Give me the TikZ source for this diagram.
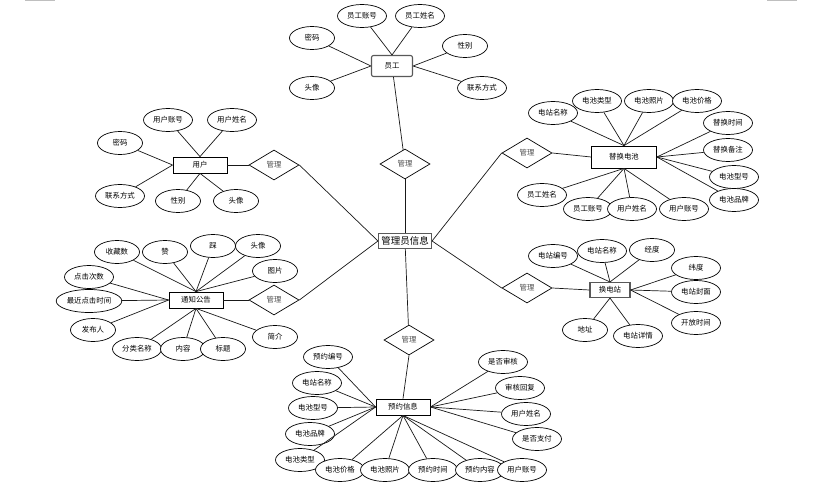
\documentclass[tikz,border=0pt]{standalone}
\usepackage{fontspec}
\setmainfont{Noto Sans CJK SC}
\usetikzlibrary{shapes.geometric}
\tikzset{
  attr/.style={ellipse,draw=black,fill=white,line width=0.7pt,minimum width=45pt,minimum height=23pt,inner sep=1pt,font=\fontsize{7.4pt}{8pt}\selectfont},
  attrw/.style={attr,minimum width=49pt},
  ent/.style={rectangle,draw=black,fill=white,line width=0.8pt,inner sep=0pt,font=\fontsize{7.4pt}{8pt}\selectfont},
  entg/.style={ent,draw=black!65,line width=1.1pt},
  rel/.style={diamond,draw=black,fill=white,line width=0.7pt,minimum width=50pt,minimum height=30pt,aspect=1.67,inner sep=0pt,text=black!70,font=\fontsize{7.4pt}{8pt}\selectfont},
  lk/.style={draw=black!90,line width=0.7pt},
  artif/.style={draw=black!25,line width=0.8pt}
}
\begin{document}
\begin{tikzpicture}[x=1pt,y=-1pt]
\useasboundingbox[fill=white] (0,0) rectangle (815,490);
\draw[artif] (25,0.5) -- (55,0.5);
\draw[artif] (767,0.5) -- (797,0.5);

% central
\node[entg,minimum width=53pt,minimum height=15pt,font=\fontsize{9.5pt}{10pt}\selectfont] (a) at (405,241) {管理员信息};

% 员工
\node[entg,rounded corners=2pt,minimum width=41pt,minimum height=21pt] (e) at (392,66) {员工};
\node[attrw] (e1) at (362,16) {员工账号};
\node[attrw] (e2) at (420,16) {员工姓名};
\node[attr] (e3) at (312,38) {密码};
\node[attr] (e4) at (465,46) {性别};
\node[attr] (e5) at (312,88) {头像};
\node[attrw] (e6) at (482,88) {联系方式};
\node[rel] (d1) at (405,164) {管理};
\draw[lk] (e1) -- (e.north) (e2) -- (e.north);
\draw[lk] (e3) -- (e.west) (e5) -- (e.west);
\draw[lk] (e4) -- (e.east) (e6) -- (e.east);
\draw[lk] (e) -- (d1);
\draw[lk] (d1) -- (a);

% 用户
\node[ent,minimum width=54pt,minimum height=16pt] (u) at (200,165) {用户};
\node[attrw] (u1) at (168,120) {用户账号};
\node[attrw] (u2) at (232,120) {用户姓名};
\node[attr] (u3) at (120,143) {密码};
\node[attrw] (u4) at (120,196) {联系方式};
\node[attr] (u5) at (178,201) {性别};
\node[attr] (u6) at (236,201) {头像};
\node[rel] (d2) at (274,165) {管理};
\draw[lk] (u1) -- (u.north) (u2) -- (u.north);
\draw[lk] (u3) -- (u.west) (u4) -- (u.west);
\draw[lk] (u5) -- (u.south) (u6) -- (u.south);
\draw[lk] (u.east) -- (d2.west);
\draw[lk] (d2.east) -- (a.west);

% 替换电池
\node[ent,minimum width=65pt,minimum height=22pt] (b) at (624,157) {替换电池};
\node[attrw] (b1) at (553,113) {电站名称};
\node[attrw] (b2) at (597,101) {电池类型};
\node[attrw] (b3) at (649,101) {电池照片};
\node[attrw] (b4) at (697,101) {电池价格};
\node[attrw] (b5) at (728,123) {替换时间};
\node[attrw] (b6) at (728,150) {替换备注};
\node[attrw] (b7) at (734,177) {电池型号};
\node[attrw] (b8) at (734,200) {电池品牌};
\node[attrw] (b9) at (542,195) {员工姓名};
\node[attrw] (b10) at (588,209) {员工账号};
\node[attrw] (b11) at (632,209) {用户姓名};
\node[attrw] (b12) at (684,209) {用户账号};
\node[rel] (d3) at (527,153) {管理};
\foreach \i in {1,2,3,4} {\draw[lk] (b\i) -- (b.north);}
\foreach \i in {5,6,7,8} {\draw[lk] (b\i) -- (b.east);}
\foreach \i in {9,10,11,12} {\draw[lk] (b\i) -- (b.south);}
\draw[lk] (d3.east) -- (b.west);
\draw[lk] (d3.west) -- (a.east);

% 通知公告
\node[ent,minimum width=54pt,minimum height=16pt] (n) at (196,300) {通知公告};
\node[attr] (n1) at (117,252) {收藏数};
\node[attr] (n2) at (165,252) {赞};
\node[attr] (n3) at (213,246) {踩};
\node[attr] (n4) at (258,246) {头像};
\node[attr] (n5) at (275,271) {图片};
\node[attrw] (n6) at (89,277) {点击次数};
\node[attr] (n7) at (89,301) {最近点击时间};
\node[attr] (n8) at (93,330) {发布人};
\node[attrw] (n9) at (137,349) {分类名称};
\node[attr] (n10) at (183,349) {内容};
\node[attr] (n11) at (223,349) {标题};
\node[attr] (n12) at (275,337) {简介};
\node[rel] (d4) at (274,300) {管理};
\foreach \i in {1,2,3,4,5} {\draw[lk] (n\i) -- (n.north);}
\foreach \i in {6,7,8} {\draw[lk] (n\i) -- (n.west);}
\foreach \i in {9,10,11,12} {\draw[lk] (n\i) -- (n.south);}
\draw[lk] (n.east) -- (d4.west);
\draw[lk] (d4.east) -- (a.west);

% 换电站
\node[entg,minimum width=40pt,minimum height=15pt] (s) at (610,290) {换电站};
\node[attrw] (s1) at (553,256) {电站编号};
\node[attrw] (s2) at (602,251) {电站名称};
\node[attr] (s3) at (652,250) {经度};
\node[attrw] (s4) at (696,268) {纬度};
\node[attrw] (s5) at (696,292) {电站封面};
\node[attrw] (s6) at (696,323) {开放时间};
\node[attr] (s7) at (585,330) {地址};
\node[attrw] (s8) at (638,336) {电站详情};
\node[rel] (d5) at (527,288) {管理};
\foreach \i in {1,2,3} {\draw[lk] (s\i) -- (s.north);}
\foreach \i in {4,5,6} {\draw[lk] (s\i) -- (s.east);}
\foreach \i in {7,8} {\draw[lk] (s\i) -- (s.south);}
\draw[lk] (s.west) -- (d5.east);
\draw[lk] (d5.west) -- (a.east);

% 预约信息
\node[ent,minimum width=54pt,minimum height=16pt] (r) at (403,407) {预约信息};
\node[attrw] (r1) at (328,357) {预约编号};
\node[attrw] (r2) at (317,383) {电站名称};
\node[attrw] (r3) at (313,408) {电池型号};
\node[attrw] (r4) at (310,434) {电池品牌};
\node[attrw] (r5) at (300,460) {电池类型};
\node[attrw] (r6) at (340,470) {电池价格};
\node[attrw] (r7) at (385,470) {电池照片};
\node[attrw] (r8) at (433,470) {预约时间};
\node[attrw] (r9) at (480,470) {预约内容};
\node[attrw] (r10) at (522,470) {用户账号};
\node[attrw] (r11) at (503,362) {是否审核};
\node[attrw] (r12) at (520,388) {审核回复};
\node[attrw] (r13) at (526,414) {用户姓名};
\node[attrw] (r14) at (537,439) {是否支付};
\node[rel] (d6) at (409,340) {管理};
\foreach \i in {1,2,3,4,5} {\draw[lk] (r\i) -- (r.west);}
\foreach \i in {6,7,8,9,10} {\draw[lk] (r\i) -- (r.south);}
\foreach \i in {11,12,13,14} {\draw[lk] (r\i) -- (r.east);}
\draw[lk] (a) -- (d6);
\draw[lk] (d6.south) -- (r.north);
\end{tikzpicture}
\end{document}
